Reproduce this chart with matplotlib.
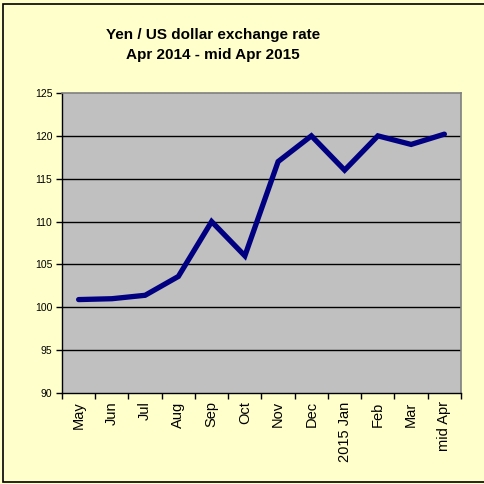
import matplotlib
matplotlib.use("Agg")
import matplotlib.pyplot as plt
from matplotlib.patches import Rectangle

months = ["May", "Jun", "Jul", "Aug", "Sep", "Oct", "Nov", "Dec",
          "2015 Jan", "Feb", "Mar", "mid Apr"]
yen_per_usd = [100.9, 101.0, 101.4, 103.6, 110.0, 106.0, 117.0, 120.0,
               116.0, 120.0, 119.0, 120.2]
yticks = [90, 95, 100, 105, 110, 115, 120, 125]

plt.rcParams['font.family'] = ['Liberation Sans', 'DejaVu Sans']

W, H = 485, 484
fig = plt.figure(figsize=(W / 100, H / 100), dpi=100)
fig.patch.set_facecolor('#FFFFCC')

# outer frame of the chart
fig.patches.append(Rectangle((3 / W, 2 / H), 482 / W, 478 / H, transform=fig.transFigure,
                             fill=False, edgecolor='black', linewidth=1.2))

ax = fig.add_axes([62 / W, 1 - 393 / H, 399 / W, 300 / H])
ax.set_facecolor('#C0C0C0')

x = list(range(len(months)))
ax.plot(x, yen_per_usd, color='#000080', linewidth=3.8, solid_joinstyle='miter',
        solid_capstyle='round', zorder=3)

ax.set_xlim(-0.5, len(months) - 0.5)
ax.set_ylim(90, 125)
ax.set_yticks(yticks)
ax.set_yticklabels([str(v) for v in yticks], fontsize=7.5)
for v in yticks[1:-1]:
    ax.axhline(v, color='black', linewidth=1.0, zorder=1)

# category ticks sit between the labels, labels in the middle
ax.set_xticks([i - 0.5 for i in range(len(months) + 1)])
ax.set_xticklabels([])
ax.set_xticks(x, minor=True)
ax.set_xticklabels(months, minor=True, rotation=90, fontsize=10.5, va='top')
ax.tick_params(axis='x', which='minor', length=0, pad=6)
ax.tick_params(axis='x', which='major', length=4, width=1, color='black')
ax.tick_params(axis='y', length=4, width=1, color='black', pad=3)

for side in ['top', 'right']:
    ax.spines[side].set_color('#808080')
    ax.spines[side].set_linewidth(1.2)
for side in ['left', 'bottom']:
    ax.spines[side].set_color('black')
    ax.spines[side].set_linewidth(1.0)

fig.text(213 / W, 1 - 35 / H, "Yen / US dollar exchange rate", ha='center', va='center',
         fontsize=11, fontweight='bold')
fig.text(213 / W, 1 - 55 / H, "Apr 2014 - mid Apr 2015", ha='center', va='center',
         fontsize=11, fontweight='bold')

fig.savefig("out.png", dpi=100, facecolor=fig.get_facecolor())
